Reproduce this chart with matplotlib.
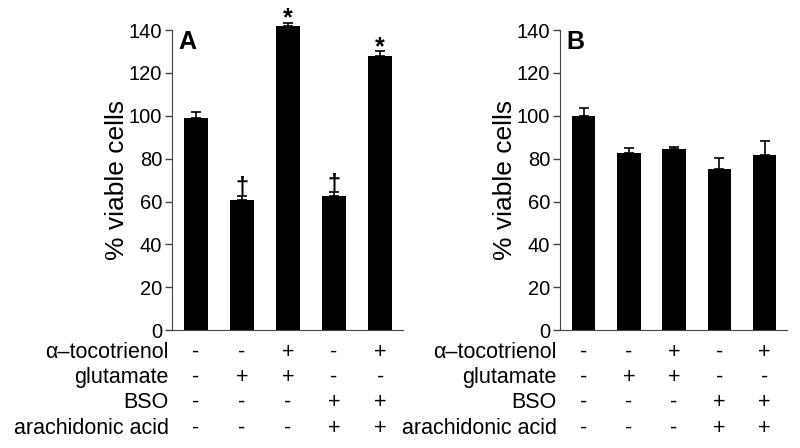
import numpy as np
import matplotlib
matplotlib.use("Agg")
import matplotlib.pyplot as plt

plt.rcParams['font.family'] = ['Liberation Sans', 'DejaVu Sans']

# panel A values (% viable cells) and upper error bars
vals_a = [99, 60.5, 142, 62.5, 128]
err_a = [2.7, 2.3, 1.5, 1.8, 2.0]
marks_a = ["", "†", "*", "†", "*"]

# panel B values
vals_b = [100, 82.7, 84.6, 75, 81.8]
err_b = [3.6, 2.3, 0.9, 5.2, 6.5]
marks_b = ["", "", "", "", ""]

# treatment table
row_names = ["α–tocotrienol", "glutamate", "BSO", "arachidonic acid"]
rows = [["-", "-", "+", "-", "+"],
        ["-", "+", "+", "-", "-"],
        ["-", "-", "-", "+", "+"],
        ["-", "-", "-", "+", "+"]]
yticks = [0, 20, 40, 60, 80, 100, 120, 140]

fig = plt.figure(figsize=(8, 4.48), dpi=100)
ax_a = fig.add_axes([0.215, 0.263, 0.289, 0.670])
ax_b = fig.add_axes([0.700, 0.263, 0.284, 0.670])

row_y = [-0.073, -0.157, -0.240, -0.327]

def draw(ax, vals, errs, marks, letter):
    x = np.arange(len(vals))
    ax.bar(x, vals, width=0.52, color="black", clip_on=False, zorder=2)
    ax.errorbar(x, vals, yerr=[np.zeros(len(errs)), errs], fmt="none",
                ecolor="black", elinewidth=1.2, capsize=3.5, capthick=1.2,
                clip_on=False, zorder=1)
    for xi, v, e, m in zip(x, vals, errs, marks):
        if m == "*":
            ax.text(xi, v + e - 3.5, m, ha="center", va="bottom",
                    fontsize=18, fontweight="bold", clip_on=False)
        elif m:
            ax.text(xi, v + e - 1.5, m, ha="center", va="bottom",
                    fontsize=17, fontweight="bold", clip_on=False)
    ax.set_xlim(-0.52, 4.5)
    ax.set_ylim(0, 140)
    ax.set_yticks(yticks)
    ax.set_xticks([])
    ax.spines["top"].set_visible(False)
    ax.spines["right"].set_visible(False)
    ax.spines["left"].set_color("#444444")
    ax.spines["bottom"].set_color("#444444")
    ax.tick_params(axis="y", direction="out", length=5, width=1,
                   color="#444444", labelsize=14.5, pad=2)
    ax.set_ylabel("% viable cells", fontsize=19, labelpad=0)
    ax.text(0.026, 1.0, letter, transform=ax.transAxes, ha="left", va="top",
            fontsize=18, fontweight="bold")
    trans = matplotlib.transforms.blended_transform_factory(ax.transData, ax.transAxes)
    for ry, name, signs in zip(row_y, row_names, rows):
        ax.text(-0.015, ry, name, transform=ax.transAxes, ha="right",
                va="center", fontsize=15.5, clip_on=False)
        for xi, s in zip(x, signs):
            ax.text(xi, ry, s, transform=trans, ha="center", va="center",
                    fontsize=15.5, clip_on=False)

draw(ax_a, vals_a, err_a, marks_a, "A")
draw(ax_b, vals_b, err_b, marks_b, "B")

fig.savefig("out.png", dpi=100)
